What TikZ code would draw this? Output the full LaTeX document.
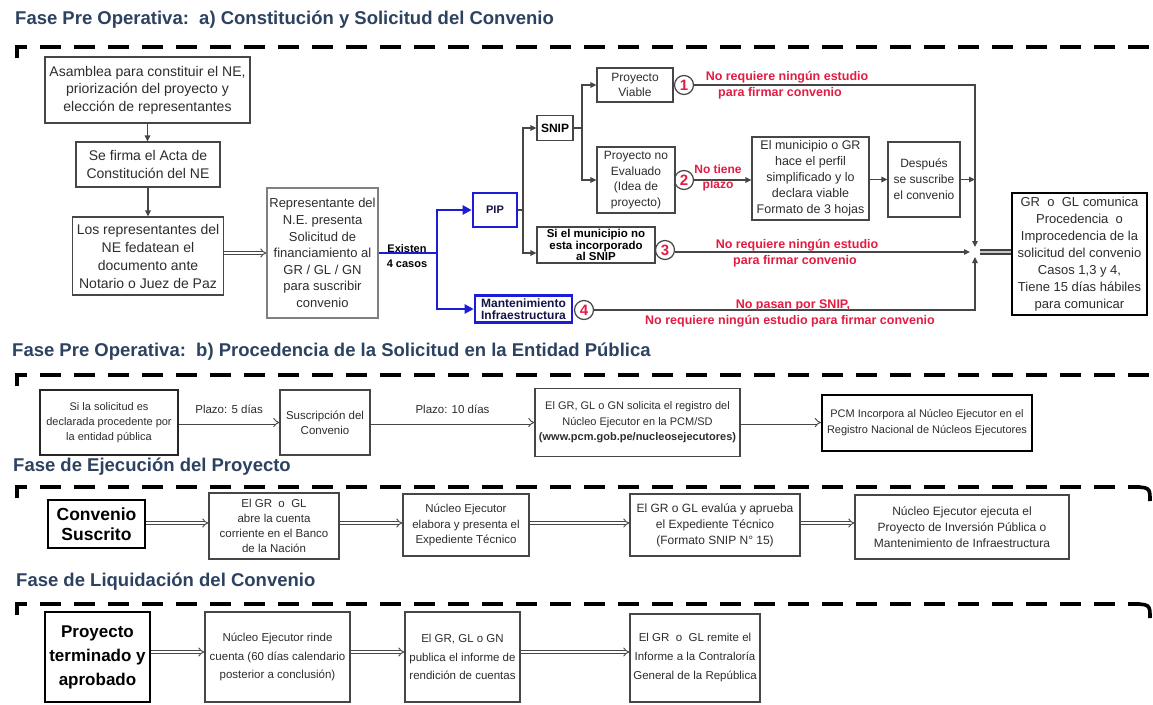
\documentclass[tikz,border=0pt]{standalone}
\usepackage{fontspec}
\setmainfont{Liberation Sans}
\usetikzlibrary{arrows.meta}
\definecolor{phaseblue}{RGB}{44,66,96}
\definecolor{boxgray}{RGB}{70,70,70}
\definecolor{notered}{RGB}{226,28,66}
\definecolor{casoblue}{RGB}{28,28,214}
\definecolor{inktext}{RGB}{45,45,45}
\definecolor{navyink}{RGB}{20,20,70}
\newcommand{\fsz}[2]{\fontsize{#1}{#2}\selectfont}
\begin{document}
\begin{tikzpicture}[x=1pt,y=-1pt,
  phase/.style={anchor=west,inner sep=0pt,text=phaseblue,font=\bfseries\fsz{18.5}{22}},
  sepline/.style={line width=3.6pt,dash pattern=on 21pt off 13pt},
  wh/.style n args={2}{minimum width=#1,minimum height=#2},
  box/.style={draw=boxgray,line width=1.1pt,align=center,inner sep=1pt,text=inktext,font=\fsz{12.5}{16}},
  heavy/.style={box,draw=black,line width=2pt},
  bluebox/.style={box,draw=casoblue,line width=2.6pt,font=\bfseries\fsz{12}{12.5},text=navyink},
  numc/.style={circle,draw=boxgray,line width=1.2pt,minimum size=19pt,inner sep=0pt,text=notered,font=\bfseries\fsz{15}{15}},
  note/.style={inner sep=0pt,align=center,text=notered,font=\bfseries\fsz{12.5}{15}},
  plain/.style={inner sep=0pt,text=inktext,font=\fsz{11.5}{14}},
  link/.style={draw=boxgray,line width=1.1pt},
  arr/.style={link,-{Triangle[length=6pt,width=5.5pt]}},
  bluelink/.style={draw=casoblue,line width=2.6pt},
  bluearr/.style={bluelink,-{Triangle[length=9pt,width=9pt]}},
  dblarr/.style={draw=boxgray,line width=0.9pt,double=white,double distance=2.2pt,-{Implies}},
  dblbar/.style={draw=black!75,line width=1.5pt,double=gray!45,double distance=2.2pt},
]
\useasboundingbox (0,0) rectangle (1153,704);
\clip (0,0) rectangle (1153,704);
\fill[white] (0,0) rectangle (1153,704);

% ---------- a) Constitucion y solicitud ----------
\node[phase] (ta) at (15,20) {Fase Pre Operativa:\ \ a) Constitución y Solicitud del Convenio};
\draw[sepline] (17,58) -- (17,47) -- (1150,47);

\node[box,wh={205pt}{66pt},font=\fsz{14}{17.5}] (asam) at (147.5,90) {Asamblea para constituir el NE,\\priorización del proyecto y\\elección de representantes};
\node[box,wh={144pt}{45pt},font=\fsz{14}{18}] (acta) at (148,164.5) {Se firma el Acta de\\Constitución del NE};
\node[box,wh={151pt}{78pt},font=\fsz{14}{18}] (feda) at (148,256) {Los representantes del\\NE fedatean el\\documento ante\\Notario o Juez de Paz};
\node[box,wh={111pt}{130pt},draw=gray,font=\fsz{13}{16.6}] (rep) at (322.5,253) {Representante del\\N.E. presenta\\Solicitud de\\financiamiento al\\GR / GL / GN\\para suscribir\\convenio};

\draw[arr] (asam.south) -- (asam.south |- acta.north);
\draw[arr] (acta.south) -- (acta.south |- feda.north);
\draw[dblarr] (feda.east |- rep.west) -- (rep.west);

% the four cases
\coordinate (jb) at (437,253);
\node[bluebox,wh={44pt}{34pt},font=\bfseries\fsz{11}{12}] (pip) at (495,210) {PIP};
\node[bluebox,wh={97pt}{27pt}] (mant) at (523.5,309) {Mantenimiento\\Infraestructura};
\draw[bluelink] (rep.east) -- (jb);
\draw[bluearr] (jb) |- (pip.west);
\draw[bluearr] (jb) |- (mant.west);
\node[inner sep=0pt,align=center,font=\bfseries\fsz{11}{15}] (cuatro) at (407,256) {Existen\\4 casos};

\node[box,wh={36pt}{25pt},font=\bfseries\fsz{12}{13},text=black] (snip) at (555,128) {SNIP};
\node[box,wh={118pt}{36pt},font=\bfseries\fsz{11.5}{11.5},text=black] (muni) at (596,245) {Si el municipio no\\esta incorporado\\al SNIP};
\coordinate (pt) at (523,210);
\draw[link] (pip.east) -- (pt);
\draw[arr] (pt) |- (snip.west);
\draw[arr] (pt) |- ([yshift=-8pt]muni.west);

\node[box,wh={76pt}{34pt},font=\fsz{12}{14.5}] (viab) at (635,85) {Proyecto\\Viable};
\node[box,wh={78pt}{66pt},font=\fsz{12}{15.5}] (noev) at (636,180) {Proyecto no\\Evaluado\\(Idea de\\proyecto)};
\coordinate (st) at (582,128);
\draw[link] (snip.east) -- (st);
\draw[arr] (st) |- (viab.west);
\draw[arr] (st) |- (noev.west);

\node[numc] (n1) at (684,85) {1};
\node[numc] (n2) at (684,180) {2};
\node[numc] (n3) at (665,250) {3};
\node[numc] (n4) at (584,310) {4};

\node[box,wh={117pt}{83pt},font=\fsz{12.5}{16}] (perf) at (810.5,178.5) {El municipio o GR\\hace el perfil\\simplificado y lo\\declara viable\\Formato de 3 hojas};
\node[box,wh={72pt}{75pt},font=\fsz{12}{16}] (desp) at (924,179.5) {Después\\se suscribe\\el convenio};
\node[heavy,wh={135pt}{122pt},font=\fsz{13}{17}] (comu) at (1079.5,254) {GR\ \ o\ \ GL comunica\\Procedencia\ \ o\\Improcedencia de la\\solicitud del convenio\\Casos 1,3 y 4,\\Tiene 15 días hábiles\\para comunicar};

\coordinate (J) at (975,252);
\draw[arr] (n1.east) -| ([yshift=5pt]J);
\draw[arr] (n2.east) -- (n2.east -| perf.west);
\draw[arr] (perf.east |- desp.west) -- (desp.west);
\draw[arr] (desp.east) -- (desp.east -| J);
\draw[arr] (n3.east |- J) -- ([xshift=-5pt]J);
\draw[arr] (n4.east) -| ([yshift=-5pt]J);
\draw[dblbar] ([xshift=5pt]J) -- (J -| comu.west);

\node[note] (r1a) at (787,77) {No requiere ningún estudio};
\node[note] (r1b) at (780,93) {para firmar convenio};
\node[note,font=\bfseries\fsz{12}{15}] (r2) at (718,178) {No tiene\\plazo};
\node[note] (r3a) at (797,245) {No requiere ningún estudio};
\node[note] (r3b) at (795,261) {para firmar convenio};
\node[note] (r4a) at (793,305) {No pasan por SNIP,};
\node[note] (r4b) at (790,321) {No requiere ningún estudio para firmar convenio};

% ---------- b) Procedencia ----------
\node[phase] (tb) at (12,352) {Fase Pre Operativa:\ \ b) Procedencia de la Solicitud en la Entidad Pública};
\draw[sepline] (17,386) -- (17,375) -- (1150,375);

\node[box,wh={138pt}{65pt},draw=black!85,line width=1.6pt,font=\fsz{11}{15}] (proc) at (109,422.5) {Si la solicitud es\\declarada procedente por\\la entidad pública};
\node[box,wh={90pt}{65pt},font=\fsz{11.5}{15}] (susc) at (325,422.5) {Suscripción del\\Convenio};
\node[box,wh={205pt}{68pt},font=\fsz{11}{15.5}] (regi) at (637.5,422.5) {El GR, GL o GN solicita el registro del\\Núcleo Ejecutor en la PCM/SD\\\textbf{(www.pcm.gob.pe/nucleosejecutores)}};
\node[heavy,wh={210pt}{56pt},font=\fsz{11}{16}] (incp) at (927,422.5) {PCM Incorpora al Núcleo Ejecutor en el\\Registro Nacional de Núcleos Ejecutores};

\draw[dblarr] (proc.east) -- (proc.east -| susc.west) node[midway,above=8pt,plain] {Plazo: 5 días};
\draw[dblarr] (susc.east) -- (susc.east -| regi.west) node[midway,above=8pt,plain] {Plazo: 10 días};
\draw[dblarr] (regi.east) -- (regi.east -| incp.west);

% ---------- Ejecucion ----------
\node[phase] (tc) at (13,467) {Fase de Ejecución del Proyecto};
\draw[sepline] (17,498) -- (17,487) -- (1140,487);
\draw[line width=3.6pt] (1128,487) .. controls (1150,487) .. (1150,501);

\node[heavy,wh={97pt}{48pt},font=\bfseries\fsz{17.5}{20},text=black] (conv) at (96.5,524) {Convenio\\Suscrito};
\node[box,wh={130pt}{66pt},font=\fsz{11.5}{15}] (cuen) at (274,526) {El GR\ \ o\ \ GL\\abre la cuenta\\corriente en el Banco\\de la Nación};
\node[box,wh={126pt}{62pt},font=\fsz{11.5}{15.5}] (expe) at (466,525) {Núcleo Ejecutor\\elabora y presenta el\\Expediente Técnico};
\node[box,wh={170pt}{62pt},font=\fsz{12}{16}] (eval) at (715,525) {El GR o GL evalúa y aprueba\\el Expediente Técnico\\(Formato SNIP N° 15)};
\node[box,wh={214pt}{64pt},font=\fsz{12}{16}] (ejec) at (962,527) {Núcleo Ejecutor ejecuta el\\Proyecto de Inversión Pública o\\Mantenimiento de Infraestructura};

\coordinate (rc) at (0,523);
\draw[dblarr] (conv.east |- rc) -- (cuen.west |- rc);
\draw[dblarr] (cuen.east |- rc) -- (expe.west |- rc);
\draw[dblarr] (expe.east |- rc) -- (eval.west |- rc);
\draw[dblarr] (eval.east |- rc) -- (ejec.west |- rc);

% ---------- Liquidacion ----------
\node[phase] (td) at (16,582) {Fase de Liquidación del Convenio};
\draw[sepline] (17,615) -- (17,604) -- (1140,604);
\draw[line width=3.6pt] (1128,604) .. controls (1150,604) .. (1150,618);

\node[heavy,wh={105pt}{90pt},font=\bfseries\fsz{17}{24},text=black] (term) at (97.5,657) {Proyecto\\terminado y\\aprobado};
\node[box,wh={145pt}{90pt},font=\fsz{11.5}{18.5}] (rind) at (277.5,657) {Núcleo Ejecutor rinde\\cuenta (60 días calendario\\posterior a conclusión)};
\node[box,wh={115pt}{90pt},font=\fsz{11.5}{18.5}] (publ) at (462.5,657) {El GR, GL o GN\\publica el informe de\\rendición de cuentas};
\node[box,wh={130pt}{88pt},font=\fsz{11.5}{19}] (remi) at (695,658) {El GR\ \ o\ \ GL remite el\\Informe a la Contraloría\\General de la República};

\coordinate (rd) at (0,652);
\draw[dblarr] (term.east |- rd) -- (rind.west |- rd);
\draw[dblarr] (rind.east |- rd) -- (publ.west |- rd);
\draw[dblarr] (publ.east |- rd) -- (remi.west |- rd);
\end{tikzpicture}
\end{document}
